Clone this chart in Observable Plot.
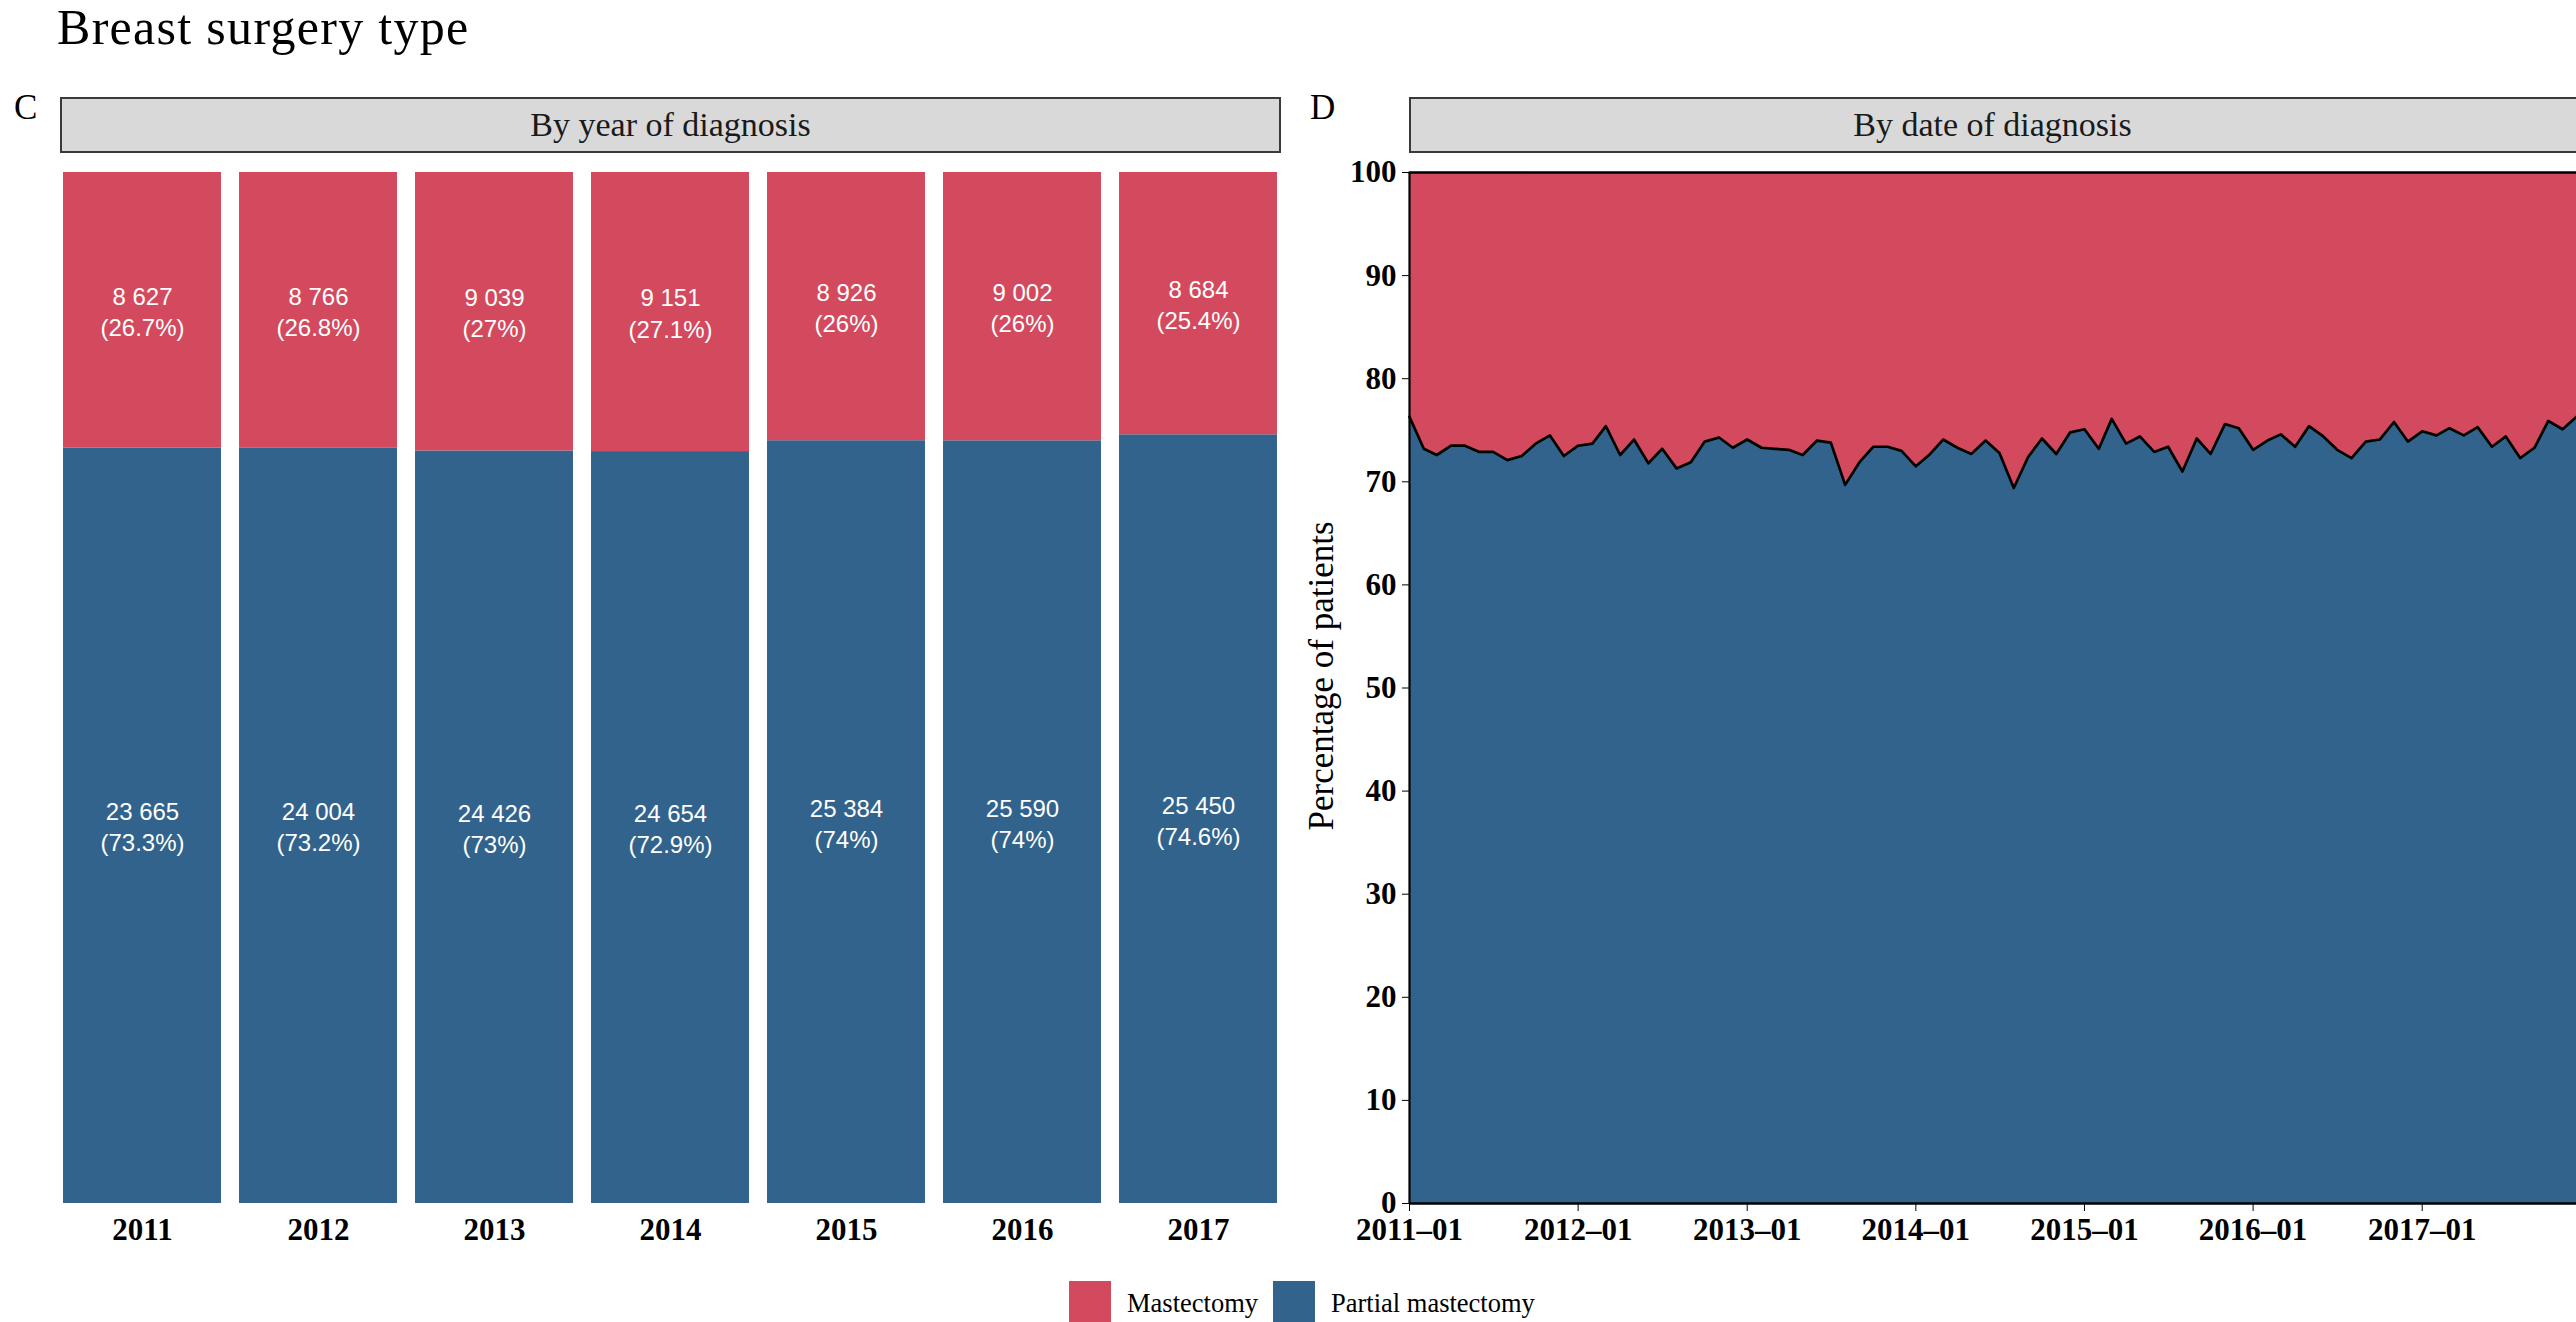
<!DOCTYPE html>
<html><head><meta charset="utf-8">
<script src="https://cdn.jsdelivr.net/npm/d3@7"></script>
<script src="https://cdn.jsdelivr.net/npm/@observablehq/plot@0.6"></script>
<style>
body{margin:0;background:#fff;}
#root{position:relative;width:2576px;height:1322px;overflow:hidden;font-family:"Liberation Serif",serif;color:#000;}
.abs{position:absolute;}
.strip{position:absolute;box-sizing:border-box;border:2px solid #3a3a3a;background:#d9d9d9;display:flex;align-items:center;justify-content:center;font-size:34px;color:#1a1a1a;white-space:nowrap;}
.panel{position:absolute;}
.panel svg{overflow:visible;}
.sw{position:absolute;width:42px;height:42px;}
.lt{position:absolute;font-size:26.5px;line-height:30px;white-space:nowrap;}
</style></head>
<body><div id="root">
  <div class="abs" style="left:57px;top:3px;font-size:50px;line-height:49px;letter-spacing:1.3px;white-space:nowrap;">Breast surgery type</div>
  <div class="abs" style="left:14px;top:90px;font-size:35px;line-height:35px;">C</div>
  <div class="abs" style="left:1310px;top:90px;font-size:35px;line-height:35px;">D</div>
  <div class="strip" style="left:60px;top:97px;width:1221px;height:56px;">By year of diagnosis</div>
  <div class="strip" style="left:1409px;top:97px;width:1180px;height:56px;"><span style="margin-right:13px">By date of diagnosis</span></div>
  <div id="left" class="panel" style="left:0;top:160px;"></div>
  <div id="right" class="panel" style="left:1280px;top:160px;"></div>
  <div class="abs" style="left:1322px;top:676px;transform:translate(-50%,-50%) rotate(-90deg);font-size:35px;white-space:nowrap;">Percentage of patients</div>
  <div id="legend"></div>
</div>
<script>
// ---- data ----
const years = ["2011", "2012", "2013", "2014", "2015", "2016", "2017"];
const partialCounts = [23665, 24004, 24426, 24654, 25384, 25590, 25450];
const mastectomyCounts = [8627, 8766, 9039, 9151, 8926, 9002, 8684];
const surgeryTypes = ["Partial mastectomy", "Mastectomy"];
const legendOrder = ["Mastectomy", "Partial mastectomy"];
const typeColors = ["#32638C", "#D34A5E"];
// monthly share of partial mastectomy (%), 2011-01 .. 2017-12
const monthlyPartialPct = [
  76.3, 73.2, 72.6, 73.5, 73.5, 72.9, 72.9, 72.1, 72.5, 73.7, 74.5, 72.5,
  73.5, 73.7, 75.4, 72.6, 74.1, 71.8, 73.2, 71.3, 71.9, 73.9, 74.3, 73.3,
  74.1, 73.3, 73.2, 73.1, 72.6, 74.0, 73.8, 69.7, 71.9, 73.4, 73.4, 73.0,
  71.5, 72.7, 74.1, 73.3, 72.7, 74.0, 72.8, 69.4, 72.4, 74.2, 72.7, 74.8,
  75.1, 73.2, 76.1, 73.7, 74.4, 72.9, 73.4, 71.0, 74.2, 72.7, 75.6, 75.2,
  73.1, 74.0, 74.6, 73.4, 75.4, 74.4, 73.1, 72.3, 73.9, 74.1, 75.8, 73.9,
  74.9, 74.5, 75.2, 74.5, 75.3, 73.4, 74.4, 72.3, 73.3, 75.9, 75.1, 76.3
];
const yTicks = [0, 10, 20, 30, 40, 50, 60, 70, 80, 90, 100];

// ---- helpers ----
const fmtCount = v => d3.format(",")(v).replace(/,/g, " ");
const fmtPct = p => String(+p.toFixed(1));

const yearRows = years.flatMap((y, i) => {
  const tot = partialCounts[i] + mastectomyCounts[i];
  return [
    {year: y, type: surgeryTypes[0], count: partialCounts[i],
     label: fmtCount(partialCounts[i]) + "\n(" + fmtPct(partialCounts[i] / tot * 100) + "%)"},
    {year: y, type: surgeryTypes[1], count: mastectomyCounts[i],
     label: fmtCount(mastectomyCounts[i]) + "\n(" + fmtPct(mastectomyCounts[i] / tot * 100) + "%)"}
  ];
});

const start = new Date(Date.UTC(+years[0], 0, 1));
const dates = monthlyPartialPct.map((_, i) => d3.utcMonth.offset(start, i));
const monthRows = dates.flatMap((d, i) => [
  {date: d, type: surgeryTypes[0], pct: monthlyPartialPct[i]},
  {date: d, type: surgeryTypes[1], pct: 100 - monthlyPartialPct[i]}
]);
const tickDates = years.map(y => new Date(Date.UTC(+y, 0, 1)));

const color = {domain: surgeryTypes, range: typeColors};
const axisStyle = {fontFamily: "Liberation Serif", fontSize: "31px", fontWeight: "bold", color: "#000", background: "transparent", overflow: "visible"};

// ---- left panel ----
const left = Plot.plot({
  width: 1300, height: 1100,
  marginLeft: 60, marginRight: 19, marginTop: 12, marginBottom: 57,
  style: axisStyle,
  x: {domain: years, paddingInner: 0.1, paddingOuter: 0, tickSize: 0, tickPadding: 14, label: null},
  y: {domain: [0, 1], axis: null},
  color,
  marks: [
    Plot.barY(yearRows, Plot.stackY({x: "year", y: "count", z: "type", fill: "type", offset: "normalize"})),
    Plot.text(yearRows, Plot.stackY({x: "year", y: "count", z: "type", text: "label", offset: "normalize",
      fill: "white", fontFamily: "Liberation Sans", fontWeight: "normal", fontSize: 24, lineHeight: 1.3}))
  ]
});
document.getElementById("left").appendChild(left);

// ---- right panel ----
const right = Plot.plot({
  width: 1296, height: 1100,
  marginLeft: 129, marginRight: 0, marginTop: 12, marginBottom: 57,
  style: axisStyle,
  x: {type: "utc", domain: [dates[0], dates[dates.length - 1]], ticks: tickDates,
      tickFormat: d3.utcFormat("%Y\u2013%m"), tickSize: 8, tickPadding: 6, label: null},
  y: {domain: [0, 100], ticks: yTicks, tickSize: 7, tickPadding: 6, label: null},
  color,
  marks: [
    Plot.areaY(monthRows, Plot.stackY({x: "date", y: "pct", z: "type", fill: "type"})),
    Plot.lineY(monthRows, Plot.stackY2({x: "date", y: "pct", z: "type", stroke: "#000", strokeWidth: 2.7})),
    Plot.ruleY([0], {stroke: "#000", strokeWidth: 2.7}),
    Plot.ruleX([dates[0]], {stroke: "#000", strokeWidth: 2.2})
  ]
});
document.getElementById("right").appendChild(right);

// ---- legend ----
const legend = document.getElementById("legend");
const legendPos = [{sw: 1069, tx: 1127}, {sw: 1273, tx: 1331}];
legendOrder.forEach((t, i) => {
  const s = document.createElement("div");
  s.className = "sw";
  s.style.left = legendPos[i].sw + "px";
  s.style.top = "1281px";
  s.style.background = typeColors[surgeryTypes.indexOf(t)];
  legend.appendChild(s);
  const l = document.createElement("div");
  l.className = "lt";
  l.style.left = legendPos[i].tx + "px";
  l.style.top = "1288px";
  l.textContent = t;
  legend.appendChild(l);
});
</script>
</body></html>
